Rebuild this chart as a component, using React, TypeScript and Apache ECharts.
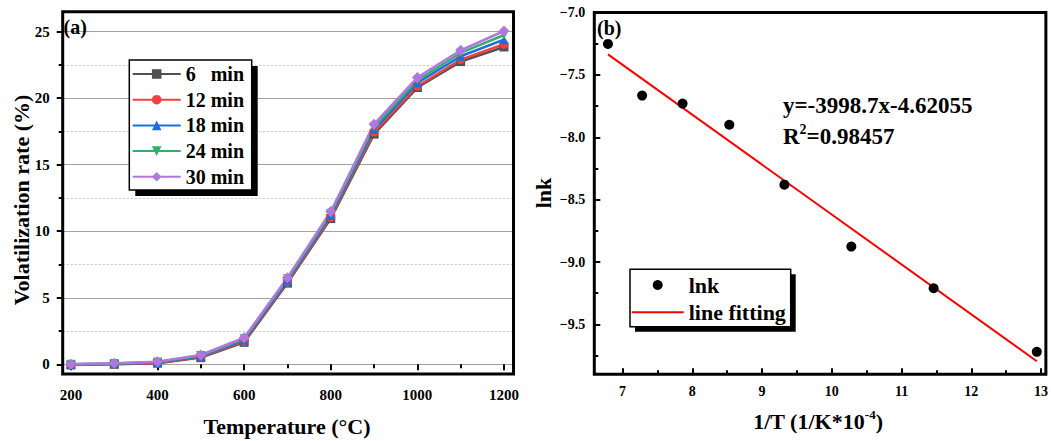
import React, { useEffect, useRef } from "react";
import * as echarts from "echarts";

const FONT = '"Liberation Serif", "Times New Roman", serif';

// ---- Panel (a) data ----
const temperatures = [200, 300, 400, 500, 600, 700, 800, 900, 1000, 1100, 1200];
const seriesNames = ["6\u00a0\u00a0\u00a0min", "12 min", "18 min", "24 min", "30 min"];
const rate6 = [-0.05, 0.0, 0.08, 0.5, 1.65, 6.1, 10.95, 17.3, 20.8, 22.75, 23.85];
const rate12 = [-0.03, 0.02, 0.1, 0.55, 1.72, 6.18, 11.05, 17.45, 20.9, 22.9, 24.05];
const rate18 = [0.0, 0.04, 0.14, 0.6, 1.82, 6.3, 11.2, 17.65, 21.15, 23.15, 24.4];
const rate24 = [0.0, 0.06, 0.18, 0.66, 1.92, 6.42, 11.35, 17.85, 21.35, 23.4, 24.75];
const rate30 = [0.0, 0.08, 0.2, 0.7, 2.0, 6.5, 11.48, 18.05, 21.55, 23.6, 25.05];
const tempMajorTicks = [200, 400, 600, 800, 1000, 1200];
const tempMinorTicks = [300, 500, 700, 900, 1100];
const rateMajorTicks = [0, 5, 10, 15, 20, 25];
const rateMinorTicks = [2.5, 7.5, 12.5, 17.5, 22.5];

// ---- Panel (b) data ----
const invT = [6.79, 7.28, 7.86, 8.53, 9.32, 10.28, 11.46, 12.94];
const lnk = [-7.252, -7.666, -7.73, -7.9, -8.38, -8.876, -9.21, -9.72];
const fitX = [6.79, 12.94];
const fitY = [-7.336, -9.795];
const invTMajorTicks = [7, 8, 9, 10, 11, 12, 13];
const invTMinorTicks = [7.5, 8.5, 9.5, 10.5, 11.5, 12.5];
const lnkMajorTicks = [-9.5, -9.0, -8.5, -8.0, -7.5, -7.0];
const lnkMinorTicks = [-9.75, -9.25, -8.75, -8.25, -7.75, -7.25];

const colors = ["#515151", "#F14040", "#1A6FDF", "#37AD6B", "#B177DE"];
const symbols = ["rect", "circle", "triangle", "triangle", "diamond"];
const symbolRotates = [0, 0, 0, 180, 0];

export default function App() {
  const ref = useRef<HTMLDivElement>(null);

  useEffect(() => {
    if (!ref.current) return;
    const chart = echarts.init(ref.current, null, { renderer: "svg" });
    const rates = [rate6, rate12, rate18, rate24, rate30];

    const tickLabel = (size: number) => ({
      fontSize: size,
      fontWeight: "bold" as const,
      fontFamily: FONT,
      color: "#000",
    });

    const leftSeries = rates.map((vals, i) => ({
      name: seriesNames[i],
      type: "line",
      xAxisIndex: 0,
      yAxisIndex: 0,
      data: temperatures.map((t, j) => [t, vals[j]]),
      symbol: symbols[i],
      symbolRotate: symbolRotates[i],
      symbolSize: i === 4 ? 11 : 9,
      color: colors[i],
      lineStyle: { width: 2.5, color: colors[i] },
      itemStyle: { color: colors[i] },
      z: 2,
    }));

    const option: any = {
      animation: false,
      backgroundColor: "#fff",
      grid: [
        {
          left: 62.7,
          top: 11.7,
          width: 450.8,
          height: 362.3,
          show: true,
          borderColor: "#000",
          borderWidth: 3,
          backgroundColor: "transparent",
          z: 5,
        },
        {
          left: 594.3,
          top: 12.5,
          width: 452,
          height: 361.8,
          show: true,
          borderColor: "#000",
          borderWidth: 3,
          backgroundColor: "transparent",
          z: 5,
        },
      ],
      xAxis: [
        {
          type: "value",
          gridIndex: 0,
          min: 181,
          max: 1222,
          position: "bottom",
          axisLine: { show: false },
          axisTick: { show: true, inside: false, length: 6, lineStyle: { width: 2, color: "#000" }, customValues: tempMajorTicks },
          axisLabel: { ...tickLabel(15), margin: 13, customValues: tempMajorTicks, formatter: (v: number) => String(v) },
          splitLine: { show: false },
        },
        {
          type: "value",
          gridIndex: 0,
          min: 181,
          max: 1222,
          position: "bottom",
          axisLine: { show: false },
          axisTick: { show: true, inside: false, length: 4, lineStyle: { width: 2, color: "#000" }, customValues: tempMinorTicks },
          axisLabel: { show: false },
          splitLine: { show: false },
        },
        {
          type: "value",
          gridIndex: 1,
          min: 6.594,
          max: 13.07,
          position: "bottom",
          axisLine: { show: false },
          axisTick: { show: true, inside: true, length: 6, lineStyle: { width: 2, color: "#000" }, customValues: invTMajorTicks },
          axisLabel: { ...tickLabel(14), margin: 10, customValues: invTMajorTicks, formatter: (v: number) => String(v) },
          splitLine: { show: false },
        },
        {
          type: "value",
          gridIndex: 1,
          min: 6.594,
          max: 13.07,
          position: "bottom",
          axisLine: { show: false },
          axisTick: { show: true, inside: true, length: 4, lineStyle: { width: 2, color: "#000" }, customValues: invTMinorTicks },
          axisLabel: { show: false },
          splitLine: { show: false },
        },
      ],
      yAxis: [
        {
          type: "value",
          gridIndex: 0,
          min: -0.73,
          max: 26.5,
          position: "left",
          axisLine: { show: false },
          axisTick: { show: true, inside: false, length: 6, lineStyle: { width: 2, color: "#000" }, customValues: rateMajorTicks },
          axisLabel: { ...tickLabel(15), margin: 13, customValues: rateMajorTicks, formatter: (v: number) => String(v) },
          splitLine: { show: true, lineStyle: { color: "#a3a3a3", width: 1, type: "solid" } },
        },
        {
          type: "value",
          gridIndex: 0,
          min: -0.73,
          max: 26.5,
          position: "left",
          axisLine: { show: false },
          axisTick: { show: true, inside: false, length: 4, lineStyle: { width: 2, color: "#000" }, customValues: rateMinorTicks },
          axisLabel: { show: false },
          splitLine: { show: true, lineStyle: { color: "#c8c8c8", width: 1, type: [2, 2] } },
        },
        {
          type: "value",
          gridIndex: 1,
          min: -9.9,
          max: -7.0,
          position: "left",
          axisLine: { show: false },
          axisTick: { show: true, inside: true, length: 6, lineStyle: { width: 2, color: "#000" }, customValues: lnkMajorTicks },
          axisLabel: {
            ...tickLabel(14),
            margin: 9,
            customValues: lnkMajorTicks,
            formatter: (v: number) => (v < 0 ? "\u2212" : "") + Math.abs(v).toFixed(1),
          },
          splitLine: { show: false },
        },
        {
          type: "value",
          gridIndex: 1,
          min: -9.9,
          max: -7.0,
          position: "left",
          axisLine: { show: false },
          axisTick: { show: true, inside: true, length: 4, lineStyle: { width: 2, color: "#000" }, customValues: lnkMinorTicks },
          axisLabel: { show: false },
          splitLine: { show: false },
        },
      ],
      legend: [
        {
          data: seriesNames,
          left: 131.7,
          top: 64,
          orient: "vertical",
          padding: 0,
          itemWidth: 48,
          itemHeight: 12,
          itemGap: 5.7,
          selectedMode: false,
          textStyle: { fontSize: 20, lineHeight: 20, fontWeight: "bold", fontFamily: FONT, color: "#000" },
          z: 10,
        },
        {
          data: [
            { name: "lnk" },
            { name: "line fitting", icon: "path://M0,0L52,0L52,2L0,2Z", itemStyle: { color: "#ff0000" } },
          ],
          left: 631.7,
          top: 274,
          orient: "vertical",
          padding: 0,
          itemWidth: 52,
          itemHeight: 10,
          itemGap: 5.3,
          selectedMode: false,
          textStyle: { fontSize: 22, lineHeight: 22, fontWeight: "bold", fontFamily: FONT, color: "#000" },
          z: 10,
        },
      ],
      graphic: [
        { type: "rect", z: 8, shape: { x: 135.3, y: 66, width: 122.4, height: 130 }, style: { fill: "#000" } },
        { type: "rect", z: 8, shape: { x: 129.3, y: 60, width: 122.4, height: 130 }, style: { fill: "#fff", stroke: "#000", lineWidth: 1.5 } },
        { type: "rect", z: 8, shape: { x: 635, y: 274.3, width: 160.7, height: 57.4 }, style: { fill: "#000" } },
        { type: "rect", z: 8, shape: { x: 630, y: 269.3, width: 160.7, height: 57.4 }, style: { fill: "#fff", stroke: "#000", lineWidth: 1.5 } },
        {
          type: "text", z: 9, x: 63.5, y: 26.7,
          style: { text: "(a)", fontSize: 20, fontWeight: "bold", fontFamily: FONT, fill: "#000", verticalAlign: "middle", align: "left" },
        },
        {
          type: "text", z: 9, x: 597, y: 28,
          style: { text: "(b)", fontSize: 20, fontWeight: "bold", fontFamily: FONT, fill: "#000", verticalAlign: "middle", align: "left" },
        },
        {
          type: "text", z: 9, x: 783, y: 105,
          style: { text: "y=-3998.7x-4.62055", fontSize: 23, fontWeight: "bold", fontFamily: FONT, fill: "#000", verticalAlign: "middle", align: "left" },
        },
        {
          type: "text", z: 9, x: 783, y: 136.7,
          style: {
            text: "{a|R}{s|2}{a|=0.98457}",
            verticalAlign: "middle",
            align: "left",
            rich: {
              a: { fontSize: 23, fontWeight: "bold", fontFamily: FONT, fill: "#000", color: "#000" },
              s: { fontSize: 14, fontWeight: "bold", fontFamily: FONT, fill: "#000", color: "#000", padding: [0, 0, 14, 0] },
            },
          },
        },
        {
          type: "text", z: 9, x: 21.7, y: 200, rotation: Math.PI / 2,
          style: { text: "Volatilization rate (%)", fontSize: 22, fontWeight: "bold", fontFamily: FONT, fill: "#000", verticalAlign: "middle", align: "center" },
        },
        {
          type: "text", z: 9, x: 287, y: 426.7,
          style: { text: "Temperature (\u00b0C)", fontSize: 22, fontWeight: "bold", fontFamily: FONT, fill: "#000", verticalAlign: "middle", align: "center" },
        },
        {
          type: "text", z: 9, x: 543, y: 193, rotation: Math.PI / 2,
          style: { text: "lnk", fontSize: 22, fontWeight: "bold", fontFamily: FONT, fill: "#000", verticalAlign: "middle", align: "center" },
        },
        {
          type: "text", z: 9, x: 818, y: 421.7,
          style: {
            text: "{a|1/T (1/K*10}{s|-4}{a|)}",
            verticalAlign: "middle",
            align: "center",
            rich: {
              a: { fontSize: 22, fontWeight: "bold", fontFamily: FONT, color: "#000" },
              s: { fontSize: 13, fontWeight: "bold", fontFamily: FONT, color: "#000", padding: [0, 0, 14, 0] },
            },
          },
        },
      ],
      series: [
        ...leftSeries,
        {
          name: "lnk",
          type: "scatter",
          xAxisIndex: 2,
          yAxisIndex: 2,
          data: invT.map((x, i) => [x, lnk[i]]),
          symbol: "circle",
          symbolSize: 10,
          itemStyle: { color: "#000", opacity: 1 },
          z: 3,
        },
        {
          name: "line fitting",
          type: "line",
          xAxisIndex: 2,
          yAxisIndex: 2,
          data: fitX.map((x, i) => [x, fitY[i]]),
          symbol: "none",
          color: "#ff0000",
          lineStyle: { color: "#ff0000", width: 2 },
          z: 2,
        },
      ],
    };

    chart.setOption(option);
    return () => chart.dispose();
  }, []);

  return (
    <div
      ref={ref}
      style={{ position: "fixed", left: 0, top: 0, width: 1051, height: 441, background: "#fff" }}
    />
  );
}
